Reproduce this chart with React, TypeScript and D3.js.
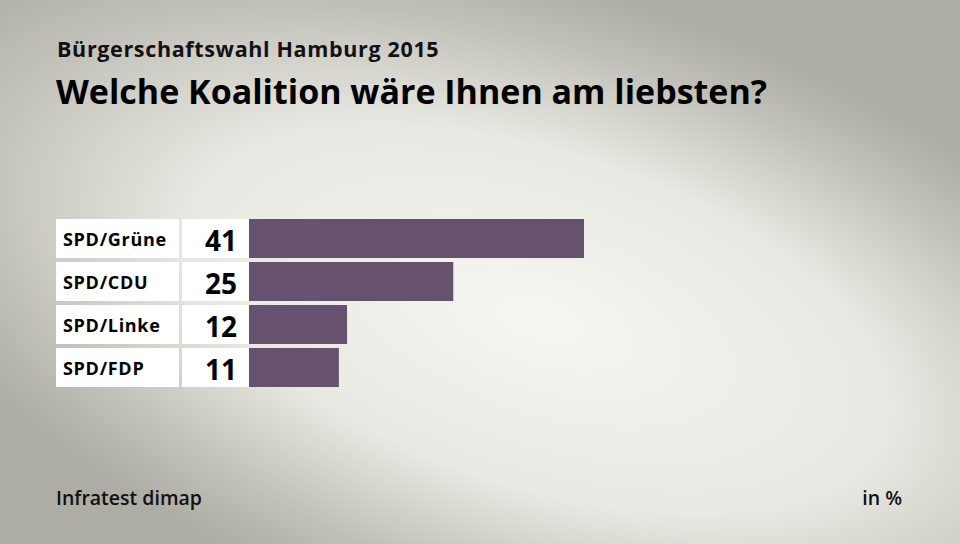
import React from 'react';
import * as d3 from 'd3';

const categories = ['SPD/Grüne', 'SPD/CDU', 'SPD/Linke', 'SPD/FDP'];
const values = [41, 25, 12, 11];

const W = 960;
const H = 544;
const font = '"Open Sans", sans-serif';

export default function App() {
  // bar scale: value -> pixel length
  const x = d3.scaleLinear().domain([0, 41]).range([249, 584]);
  const y = d3.scaleBand<string>()
    .domain(categories)
    .range([219, 387])
    .paddingInner(0.093)
    .paddingOuter(0);

  return (
    <svg width={W} height={H} style={{ position: 'absolute', left: 0, top: 0 }}>
      <defs>
        <radialGradient id="bg" cx="540" cy="320" r="720" gradientUnits="userSpaceOnUse"
          gradientTransform="translate(540 320) rotate(18) scale(1 0.46) translate(-540 -320)">
          <stop offset="0" stopColor="#f6f6f1" />
          <stop offset="0.5" stopColor="#e9e9e3" />
          <stop offset="0.82" stopColor="#c0c0b8" />
          <stop offset="1" stopColor="#adada5" />
        </radialGradient>
      </defs>
      <rect width={W} height={H} fill="#adada5" />
      <rect width={W} height={H} fill="url(#bg)" />

      <text x={57} y={57} fontFamily={font} fontWeight={700} fontSize={21.5} letterSpacing={0.65} fill="#111">
        Bürgerschaftswahl Hamburg 2015
      </text>
      <text x={56} y={104} fontFamily={font} fontWeight={700} fontSize={34} fill="#000">
        Welche Koalition wäre Ihnen am liebsten?
      </text>

      {categories.map((c, i) => {
        const top = y(c)!;
        const h = y.bandwidth();
        return (
          <g key={c}>
            <rect x={56} y={top} width={123} height={h} fill="#fff" />
            <rect x={182} y={top} width={67} height={h} fill="#fff" />
            <rect x={x(0)} y={top} width={x(values[i]) - x(0)} height={h} fill="#66526f" />
            <text x={63} y={top + 27} fontFamily={font} fontWeight={700} fontSize={18}
              letterSpacing={0.7} fill="#000">
              {c}
            </text>
            <text x={237} y={top + 32} textAnchor="end" fontFamily={font} fontWeight={700}
              fontSize={28} fill="#000">
              {values[i]}
            </text>
          </g>
        );
      })}

      <text x={56} y={505} fontFamily={font} fontWeight={600} fontSize={19.5} fill="#111">
        Infratest dimap
      </text>
      <text x={902} y={505} textAnchor="end" fontFamily={font} fontWeight={600} fontSize={19.5} fill="#111">
        in %
      </text>
    </svg>
  );
}
